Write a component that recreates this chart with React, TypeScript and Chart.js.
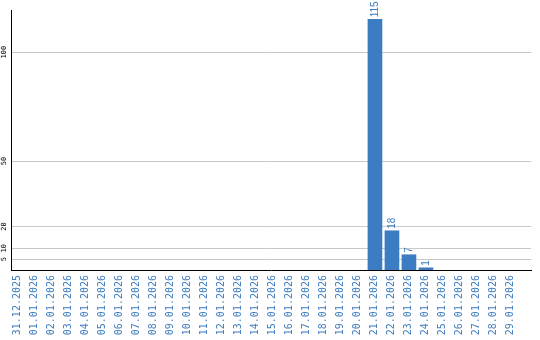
import { useEffect, useRef } from "react";
import { Chart, registerables } from "chart.js";

Chart.register(...registerables);

const categories = [
  "31.12.2025", "01.01.2026", "02.01.2026", "03.01.2026", "04.01.2026", "05.01.2026",
  "06.01.2026", "07.01.2026", "08.01.2026", "09.01.2026", "10.01.2026", "11.01.2026",
  "12.01.2026", "13.01.2026", "14.01.2026", "15.01.2026", "16.01.2026", "17.01.2026",
  "18.01.2026", "19.01.2026", "20.01.2026", "21.01.2026", "22.01.2026", "23.01.2026",
  "24.01.2026", "25.01.2026", "26.01.2026", "27.01.2026", "28.01.2026", "29.01.2026",
];

const values = [
  0, 0, 0, 0, 0, 0, 0, 0, 0, 0, 0, 0, 0, 0, 0, 0, 0, 0, 0, 0, 0,
  115, 18, 7, 1, 0, 0, 0, 0, 0,
];

const yTicks = [5, 10, 20, 50, 100];

const BLUE = "#3b7cc2";
const TEXT_BLUE = "#3d7cc0";

const labelPlugin = {
  id: "barValueLabels",
  afterDatasetsDraw(chart: any) {
    const ctx = chart.ctx;
    const meta = chart.getDatasetMeta(0);
    meta.data.forEach((bar: any, i: number) => {
      const v = values[i];
      if (!v) return;
      ctx.save();
      ctx.translate(bar.x, bar.y - 2);
      ctx.rotate(-Math.PI / 2);
      ctx.font = '10px "Liberation Sans", Arial, sans-serif';
      ctx.fillStyle = TEXT_BLUE;
      ctx.textAlign = "left";
      ctx.textBaseline = "middle";
      ctx.fillText(String(v), 0, 0);
      ctx.restore();
    });
  },
};

export default function App() {
  const ref = useRef<HTMLCanvasElement | null>(null);

  useEffect(() => {
    document.body.style.margin = "0";
    if (!ref.current) return;
    const chart = new Chart(ref.current, {
      type: "bar",
      data: {
        datasets: [
          {
            data: values.map((v, i) => ({ x: i, y: v === 0 ? null : v })),
            backgroundColor: BLUE,
            borderWidth: 0,
            barThickness: 14,
          },
        ],
      },
      options: {
        responsive: false,
        maintainAspectRatio: false,
        animation: false,
        layout: { padding: { top: 10, right: 9, left: 0, bottom: 0 } },
        plugins: {
          legend: { display: false },
          tooltip: { enabled: false },
        },
        scales: {
          x: {
            type: "linear",
            offset: false,
            min: -0.41,
            max: 30.18,
            afterBuildTicks: (s: any) => {
              s.ticks = categories.map((_, i) => ({ value: i }));
            },
            afterFit: (s: any) => {
              s.height = 70;
              s.paddingLeft = 0;
              s.paddingRight = 0;
            },
            ticks: {
              autoSkip: false,
              minRotation: 90,
              maxRotation: 90,
              padding: 5,
              labelOffset: -1,
              callback: (v: any) => categories[v as number] ?? "",
              font: { family: "DejaVu Sans Mono", size: 10 },
              color: TEXT_BLUE,
            },
            grid: { display: false, drawTicks: false, tickLength: 0 },
            border: { display: true, color: "#000", width: 1 },
          },
          y: {
            min: 0,
            max: 119.3,
            afterBuildTicks: (s: any) => {
              s.ticks = yTicks.map((v) => ({ value: v }));
            },
            afterFit: (s: any) => {
              s.width = 11;
              s.paddingTop = 0;
              s.paddingBottom = 0;
            },
            ticks: {
              minRotation: 90,
              maxRotation: 90,
              crossAlign: "center",
              padding: 0,
              font: { family: "DejaVu Sans Mono", size: 7 },
              color: "#000",
            },
            grid: { color: "#c8c8c8", drawTicks: false, tickLength: 0 },
            border: { display: true, color: "#000", width: 1 },
          },
        },
      } as any,
      plugins: [labelPlugin],
    });
    return () => chart.destroy();
  }, []);

  return <canvas ref={ref} width={540} height={340} />;
}
